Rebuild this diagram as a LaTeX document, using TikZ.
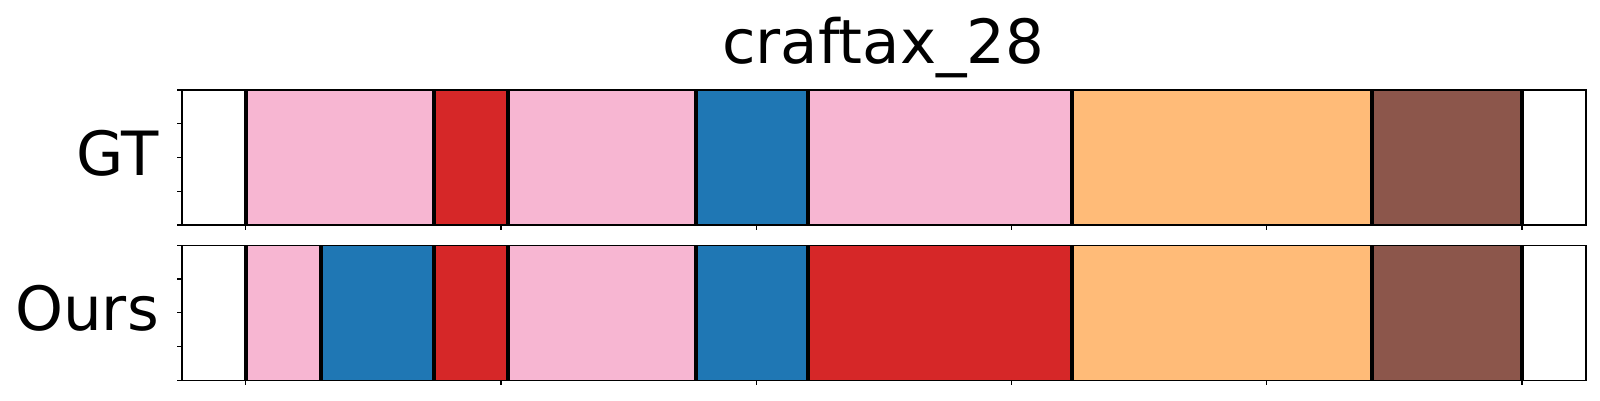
\documentclass[tikz,border=0pt]{standalone}
\usepackage{fontspec}
\setmainfont{DejaVu Sans}
\usepackage{xcolor}
\usepackage{tikz}
\definecolor{segpink}{HTML}{F7B6D2}
\definecolor{segred}{HTML}{D62728}
\definecolor{segblue}{HTML}{1F77B4}
\definecolor{segorange}{HTML}{FFBB78}
\definecolor{segbrown}{HTML}{8C564B}

\begin{document}
\begin{tikzpicture}[x=1pt,y=-1pt,font=\fontsize{61}{61}\selectfont,
  sep/.style={line width=4pt},
  spine/.style={line width=1.6pt},
  tick/.style={line width=1.2pt}]
\useasboundingbox (0,0) rectangle (1600,400);
%\draw[help lines] (0,0) grid (1600,400);
\path (0,0)
(883.3,63.3) node(title) [anchor=base,inner sep=0] {craftax\_28}
(159,175.7) node(gt) [anchor=base east,inner sep=0] {GT}
(159,330) node(ours) [anchor=base east,inner sep=0] {Ours};
\begin{scope}[xshift=245.7pt,x=5.105pt]
% GT row
\foreach \a/\b/\c in {0/36.8/segpink,36.8/51.4/segred,51.4/88.3/segpink,88.3/110.2/segblue,110.2/161.8/segpink,161.8/220.6/segorange,220.6/250/segbrown}
  \fill[\c] (\a,90) rectangle (\b,225);
\foreach \x in {0,36.8,51.4,88.3,110.2,161.8,220.6,250}
  \draw[sep] (\x,90) -- (\x,225);
% Ours row
\foreach \a/\b/\c in {0/14.7/segpink,14.7/36.8/segblue,36.8/51.4/segred,51.4/88.3/segpink,88.3/110.2/segblue,110.2/161.8/segred,161.8/220.6/segorange,220.6/250/segbrown}
  \fill[\c] (\a,245.3) rectangle (\b,380.3);
\foreach \x in {0,14.7,36.8,51.4,88.3,110.2,161.8,220.6,250}
  \draw[sep] (\x,245.3) -- (\x,380.3);
% frames and ticks
\foreach \t in {90,245.3} {
  \draw[spine] (-12.5,\t) rectangle (262.5,\t+135);
  \foreach \x in {0,50,...,250}
    \draw[tick] (\x,\t+135) -- ++(0,5);
  \foreach \k in {0,...,4}
    \draw[tick] (-12.5,{\t+33.75*\k}) -- ++(-5pt,0);
}
\end{scope}
\end{tikzpicture}
\end{document}
